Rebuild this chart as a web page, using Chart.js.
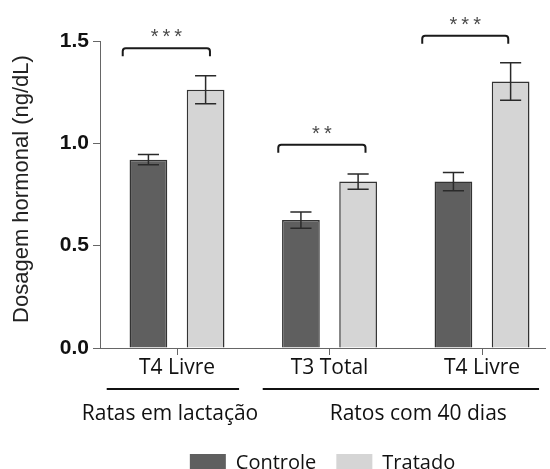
<!DOCTYPE html>
<html>
<head>
<meta charset="utf-8">
<script src="https://cdn.jsdelivr.net/npm/chart.js@4.4.1/dist/chart.umd.min.js"></script>
<style>
  html, body { margin: 0; padding: 0; background: #fff; overflow: hidden; }
  #wrap { width: 550px; height: 469px; position: relative; }
</style>
</head>
<body>
<div id="wrap"><canvas id="c"></canvas></div>
<script>
// Hormone measurements (mean ± SEM)
const categories = ['T4 Livre', 'T3 Total', 'T4 Livre'];
const controle = [0.92, 0.625, 0.813];
const controleErr = [0.025, 0.04, 0.045];
const tratado = [1.262, 0.813, 1.302];
const tratadoErr = [0.068, 0.037, 0.092];
const yTickValues = [0, 0.5, 1.0, 1.5];

// Significance brackets (x in category units, level in ng/dL)
const significance = ['***', '**', '***'];
const bracketLevel = [1.465, 0.993, 1.526];
const bracketFrom = [-0.356, 0.664, 1.608];
const bracketTo = [0.216, 1.236, 2.172];

// Animal groups under the category labels
const groupNames = ['Ratas em lactação', 'Ratos com 40 dias'];
const groupFrom = [-0.461, 0.562];
const groupTo = [0.407, 2.374];
const groupCenter = [-0.046, 1.582];

const LABEL_FONT = 'Open Sans';
const NUM_FONT = 'Liberation Sans';

const toPoints = arr => arr.map((v, i) => ({ x: i, y: v }));

const errorBars = {
  id: 'errorBars',
  afterDatasetsDraw(chart) {
    const ctx = chart.ctx;
    const ys = chart.scales.y;
    chart.data.datasets.forEach((ds, di) => {
      const meta = chart.getDatasetMeta(di);
      meta.data.forEach((bar, i) => {
        const v = ds.data[i].y, e = ds.errors[i];
        const top = ys.getPixelForValue(v + e);
        const bot = ys.getPixelForValue(v - e);
        const half = bar.width * 0.28;
        ctx.save();
        ctx.strokeStyle = '#2a2a2a';
        ctx.lineWidth = 1.5;
        ctx.beginPath();
        ctx.moveTo(bar.x, top); ctx.lineTo(bar.x, bot);
        ctx.moveTo(bar.x - half, top); ctx.lineTo(bar.x + half, top);
        ctx.moveTo(bar.x - half, bot); ctx.lineTo(bar.x + half, bot);
        ctx.stroke();
        ctx.restore();
      });
    });
  }
};

const brackets = {
  id: 'brackets',
  afterDatasetsDraw(chart) {
    const ctx = chart.ctx;
    const xs = chart.scales.x, ys = chart.scales.y;
    const drop = 8, r = 3;
    significance.forEach((stars, i) => {
      const x0 = xs.getPixelForValue(bracketFrom[i]);
      const x1 = xs.getPixelForValue(bracketTo[i]);
      const yy = ys.getPixelForValue(bracketLevel[i]);
      ctx.save();
      ctx.strokeStyle = '#1a1a1a';
      ctx.lineWidth = 2;
      ctx.beginPath();
      ctx.moveTo(x0, yy + drop);
      ctx.arcTo(x0, yy, x0 + r, yy, r);
      ctx.arcTo(x1, yy, x1, yy + r, r);
      ctx.lineTo(x1, yy + drop);
      ctx.stroke();
      ctx.fillStyle = '#4a4a4a';
      ctx.font = '20px "' + NUM_FONT + '"';
      ctx.textAlign = 'center';
      ctx.textBaseline = 'alphabetic';
      ctx.fillText(stars.split('').join('\u2009'), (x0 + x1) / 2, yy - 5);
      ctx.restore();
    });
  }
};

const groupAxis = {
  id: 'groupAxis',
  afterDraw(chart) {
    const ctx = chart.ctx;
    const xs = chart.scales.x;
    const base = chart.chartArea.bottom;
    ctx.save();
    ctx.strokeStyle = '#111';
    ctx.lineWidth = 2;
    ctx.fillStyle = '#111';
    ctx.font = '21px "' + LABEL_FONT + '"';
    ctx.textAlign = 'center';
    ctx.textBaseline = 'alphabetic';
    groupNames.forEach((name, i) => {
      const a = xs.getPixelForValue(groupFrom[i]);
      const b = xs.getPixelForValue(groupTo[i]);
      ctx.beginPath();
      ctx.moveTo(a, base + 41);
      ctx.lineTo(b, base + 41);
      ctx.stroke();
      ctx.fillText(name, xs.getPixelForValue(groupCenter[i]), base + 72);
    });
    ctx.restore();
  }
};

// keep the legend centred under the plot area and low in the canvas
const legendPlacement = {
  id: 'legendPlacement',
  afterLayout(chart) {
    const lg = chart.legend, ca = chart.chartArea;
    if (!lg) return;
    lg.left = ca.left;
    lg.right = ca.right;
    lg.width = ca.right - ca.left;
    const h = lg.height;
    lg.top = ca.bottom + 85;
    lg.bottom = lg.top + h;
  }
};

new Chart(document.getElementById('c'), {
  type: 'bar',
  data: {
    datasets: [
      {
        label: 'Controle',
        data: toPoints(controle),
        errors: controleErr,
        backgroundColor: '#5f5f5f',
        borderColor: '#333',
        borderWidth: 1.5
      },
      {
        label: 'Tratado',
        data: toPoints(tratado),
        errors: tratadoErr,
        backgroundColor: '#d5d5d5',
        borderColor: '#333',
        borderWidth: 1.5
      }
    ]
  },
  options: {
    responsive: true,
    maintainAspectRatio: false,
    animation: false,
    categoryPercentage: 0.75,
    barPercentage: 0.66,
    layout: { padding: { left: 0, right: 5, top: 41, bottom: 0 } },
    plugins: {
      legend: {
        position: 'bottom',
        labels: {
          boxWidth: 36,
          boxHeight: 18,
          padding: 20,
          color: '#111',
          font: { family: LABEL_FONT, size: 20 },
          generateLabels: chart => chart.data.datasets.map((ds, i) => ({
            text: ds.label,
            fillStyle: ds.backgroundColor,
            strokeStyle: ds.backgroundColor,
            lineWidth: 0,
            datasetIndex: i,
            fontColor: '#111'
          }))
        }
      },
      tooltip: { enabled: false }
    },
    scales: {
      x: {
        type: 'linear',
        offset: false,
        min: -0.505,
        max: 2.413,
        afterBuildTicks: s => { s.ticks = categories.map((_, i) => ({ value: i })); },
        afterFit: s => { s.height = 71; },
        ticks: {
          callback: v => categories[v] ?? '',
          font: { family: LABEL_FONT, size: 21 },
          color: '#111',
          padding: 0,
          maxRotation: 0,
          autoSkip: false
        },
        grid: { offset: false, drawOnChartArea: false, tickLength: 7, color: '#666' },
        border: { color: '#666' }
      },
      y: {
        min: 0,
        max: 1.5,
        afterBuildTicks: s => { s.ticks = yTickValues.map(v => ({ value: v })); },
        afterFit: s => { s.width = 100; },
        ticks: {
          callback: v => v.toFixed(1),
          font: { family: NUM_FONT, size: 21, weight: 'bold' },
          color: '#111',
          padding: 4
        },
        grid: { drawOnChartArea: false, tickLength: 7, color: '#666' },
        border: { color: '#666' },
        title: {
          display: true,
          text: '\u2002Dosagem hormonal (ng/dL)',
          font: { family: NUM_FONT, size: 22 },
          color: '#222',
          padding: { top: 9, bottom: 0 }
        }
      }
    }
  },
  plugins: [errorBars, brackets, groupAxis, legendPlacement]
});
</script>
</body>
</html>
